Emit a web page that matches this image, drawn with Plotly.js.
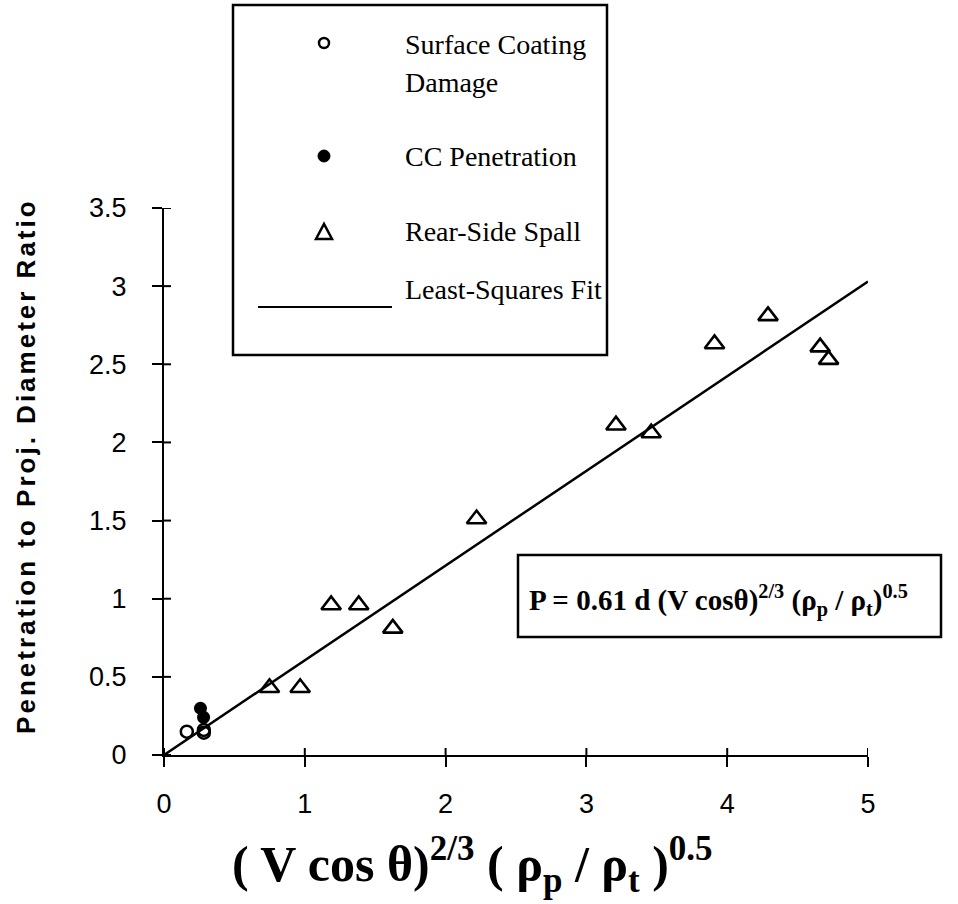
<!DOCTYPE html>
<html>
<head>
<meta charset="utf-8">
<script src="https://cdn.plot.ly/plotly-3.0.1.min.js"></script>
<style>
html,body{margin:0;padding:0;background:#fff;}
#chart{width:958px;height:904px;}
.ytitle{letter-spacing:3px;}
</style>
</head>
<body>
<div id="chart"></div>
<script>
// ---- data ----
const coatX = [0.162, 0.283, 0.283];
const coatY = [0.149, 0.160, 0.143];
const ccX = [0.259, 0.281];
const ccY = [0.299, 0.241];
const spallX = [0.749, 0.967, 1.187, 1.383, 1.625, 2.22, 3.21, 3.46, 3.91, 4.29, 4.66, 4.72];
const spallY = [0.43, 0.43, 0.96, 0.96, 0.81, 1.51, 2.11, 2.06, 2.63, 2.81, 2.61, 2.53];
const fitX = [0, 5];
const fitY = [0, 3.03];
const xTicks = [0, 1, 2, 3, 4, 5];
const xTickText = ['0', '1', '2', '3', '4', '5'];
const yTicks = [0, 0.5, 1, 1.5, 2, 2.5, 3, 3.5];
const yTickText = ['0', '0.5', '1', '1.5', '2', '2.5', '3', '3.5'];
const seriesNames = ['Surface Coating Damage', 'CC Penetration', 'Rear-Side Spall', 'Least-Squares Fit'];

// ---- layout geometry ----
const L = 164, T = 208, W = 704, H = 547;
const px = p => (p - L) / W;
const py = p => (T + H - p) / H;
const SERIF = 'Liberation Serif, Times New Roman, serif';
const SANS = 'Liberation Sans, Arial, sans-serif';

const traces = [
  {x: fitX, y: fitY, mode: 'lines', name: seriesNames[3], line: {color: '#000', width: 2.5}},
  {x: spallX, y: spallY, mode: 'markers', name: seriesNames[2],
   marker: {symbol: 'triangle-up-open', size: 17, color: '#000', line: {color: '#000', width: 2.6}}},
  {x: coatX, y: coatY, mode: 'markers', name: seriesNames[0],
   marker: {symbol: 'circle-open', size: 12, color: '#000', line: {color: '#000', width: 2.5}}},
  {x: ccX, y: ccY, mode: 'markers', name: seriesNames[1],
   marker: {symbol: 'circle', size: 13, color: '#000'}}
];

function axis(extra) {
  return Object.assign({
    showline: true, linecolor: '#000', linewidth: 2,
    ticks: 'outside', ticklen: 10, tickwidth: 2, tickcolor: '#000',
    showgrid: false, zeroline: false, tickmode: 'array',
    tickfont: {family: SANS, size: 27, color: '#000'}
  }, extra);
}

const shapes = [
  // legend box
  {type: 'rect', xref: 'paper', yref: 'paper', x0: px(233), x1: px(607), y0: py(355), y1: py(5),
   line: {color: '#000', width: 2.5}, fillcolor: 'rgba(0,0,0,0)'},
  // equation box
  {type: 'rect', xref: 'paper', yref: 'paper', x0: px(518), x1: px(941), y0: py(637), y1: py(555),
   line: {color: '#000', width: 2.5}, fillcolor: 'rgba(0,0,0,0)'},
  // legend symbols
  {type: 'circle', xref: 'paper', yref: 'paper', xsizemode: 'pixel', ysizemode: 'pixel',
   xanchor: px(324), yanchor: py(43), x0: -5, x1: 5, y0: -5, y1: 5, line: {color: '#000', width: 2.5}},
  {type: 'circle', xref: 'paper', yref: 'paper', xsizemode: 'pixel', ysizemode: 'pixel',
   xanchor: px(324), yanchor: py(156), x0: -6, x1: 6, y0: -6, y1: 6, line: {color: '#000', width: 1}, fillcolor: '#000'},
  {type: 'path', xref: 'paper', yref: 'paper', xsizemode: 'pixel', ysizemode: 'pixel',
   xanchor: px(324), yanchor: py(232), path: 'M -8 -7 L 8 -7 L 0 8 Z', line: {color: '#000', width: 2.5}},
  {type: 'line', xref: 'paper', yref: 'paper', x0: px(258), x1: px(392), y0: py(307), y1: py(307),
   line: {color: '#000', width: 2}}
];
// inner half of the cross-style ticks
xTicks.forEach(v => shapes.push({type: 'line', xref: 'x', yref: 'paper', x0: v, x1: v, y0: 0, y1: 7 / H,
  line: {color: '#000', width: 2}}));
yTicks.forEach(v => shapes.push({type: 'line', xref: 'paper', yref: 'y', x0: 0, x1: 7 / W, y0: v, y1: v,
  line: {color: '#000', width: 2}}));

const annFont = {family: SERIF, size: 28, color: '#000'};
function legText(t, yc) {
  return {text: t, x: px(403), y: py(yc), xref: 'paper', yref: 'paper', xanchor: 'left', yanchor: 'middle',
          showarrow: false, font: annFont};
}
const annotations = [
  legText('Surface Coating', 44),
  legText('Damage', 83),
  legText('CC Penetration', 156),
  legText('Rear-Side Spall', 231),
  legText('Least-Squares Fit', 289),
  {text: 'P = 0.61 d (V cosθ)<sup>2/3</sup> (ρ<sub>p</sub> / ρ<sub>t</sub>)<sup>0.5</sup>',
   x: px(527), y: py(600), xref: 'paper', yref: 'paper', xanchor: 'left', yanchor: 'middle', showarrow: false,
   font: {family: SERIF, size: 29, color: '#000', weight: 'bold'}}
];

const layout = {
  width: 958, height: 904,
  margin: {l: L, r: 958 - L - W, t: T, b: 904 - T - H, pad: 0},
  paper_bgcolor: '#fff', plot_bgcolor: '#fff',
  showlegend: false,
  xaxis: axis({
    range: [0, 5], tickvals: xTicks, ticktext: xTickText, ticklabelstandoff: 14,
    title: {text: '( V cos θ)<sup>2/3</sup> ( ρ<sub>p</sub> / ρ<sub>t</sub> )<sup>0.5</sup>&nbsp;&nbsp;&nbsp;&nbsp;&nbsp;&nbsp;&nbsp;',
            font: {family: SERIF, size: 50, color: '#000', weight: 'bold'}, standoff: 28}
  }),
  yaxis: axis({
    range: [0, 3.5], tickvals: yTicks, ticktext: yTickText, ticklabelstandoff: 20,
    title: {text: '&nbsp;&nbsp;&nbsp;Penetration to Proj. Diameter Ratio',
            font: {family: SANS, size: 26, color: '#000', weight: 'bold'}, standoff: 46}
  }),
  shapes: shapes,
  annotations: annotations
};

Plotly.newPlot('chart', traces, layout, {displayModeBar: false, staticPlot: true});
</script>
</body>
</html>
